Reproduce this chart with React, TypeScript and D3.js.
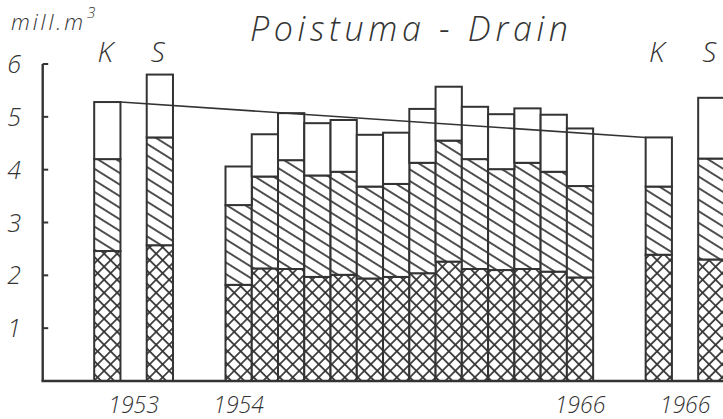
import React from "react";
import * as d3 from "d3";

// ---- data ----
const bars = ["K1953", "S1953", "p01", "p02", "p03", "p04", "p05", "p06", "p07", "p08", "p09", "p10", "p11", "p12", "p13", "p14", "K1966", "S1966"];
// crosshatched (lower) component, mill. m3
const lowerPart = [2.46, 2.57, 1.82, 2.13, 2.12, 1.97, 2.01, 1.94, 1.97, 2.04, 2.26, 2.12, 2.10, 2.12, 2.07, 1.96, 2.39, 2.30];
// single-hatched (middle) component
const middlePart = [1.74, 2.04, 1.51, 1.74, 2.06, 1.92, 1.95, 1.74, 1.76, 2.09, 2.29, 2.08, 1.91, 2.01, 1.89, 1.73, 1.29, 1.91];
// open (upper) component
const upperPart = [1.08, 1.19, 0.73, 0.80, 0.89, 0.99, 0.98, 0.98, 0.97, 1.02, 1.02, 0.99, 1.04, 1.03, 1.08, 1.09, 0.93, 1.15];

const yTicks = [1, 2, 3, 4, 5, 6];
const headLabels = [
  { bar: "K1953", text: "K" },
  { bar: "S1953", text: "S" },
  { bar: "K1966", text: "K" },
  { bar: "S1966", text: "S" },
];
const yearLabels = [
  { from: "K1953", to: "S1953", text: "1953" },
  { from: "p01", to: "p01", text: "1954" },
  { from: "p14", to: "p14", text: "1966" },
  { from: "K1966", to: "S1966", text: "1966" },
];
const trendFrom = "K1953";
const trendTo = "K1966";
const title = "Poistuma - Drain";
const unitLabel = "mill.m";

// ---- layout ----
const W = 723;
const H = 419;
const INK = "#333";
const FONT = "'Open Sans', 'DejaVu Sans', sans-serif";

export default function App() {
  // slot domain: gaps between groups are layout, not data
  const slots = [
    "K1953", "_g1", "S1953", "_g2", "_g3",
    ...bars.slice(2, 16),
    "_g4", "_g5", "K1966", "_g6", "S1966",
  ];
  const slotW = 26.26;
  const x = d3.scaleBand<string>().domain(slots).range([94.2, 94.2 + slots.length * slotW]).padding(0);
  const y = d3.scaleLinear().domain([0, 6]).range([381, 64]);

  const table = bars.map((b, i) => ({ bar: b, lower: lowerPart[i], middle: middlePart[i], upper: upperPart[i] }));
  const stack = d3.stack<any>().keys(["lower", "middle", "upper"]);
  const series = stack(table);
  const fills: Record<string, string> = { lower: "url(#cross)", middle: "url(#diag)", upper: "#fff" };

  const axisX = 42.7;
  const totals = new Map(table.map((d) => [d.bar, d.lower + d.middle + d.upper]));
  const bw = x.bandwidth();
  const center = (b: string) => (x(b) as number) + bw / 2;

  const trend = d3.line<[number, number]>()([
    [(x(trendFrom) as number) + bw, y(totals.get(trendFrom)!)],
    [x(trendTo) as number, y(totals.get(trendTo)!)],
  ]);

  const dS = 9.8;
  const cS = 9.2;

  return (
    <svg width={W} height={H} style={{ position: "absolute", left: 0, top: 0, background: "#fff" }} fontFamily={FONT}>
      <defs>
        <pattern id="diag" patternUnits="userSpaceOnUse" width={dS} height={dS} patternTransform="rotate(32)">
          <rect width={dS} height={dS} fill="#fff" />
          <line x1={0} y1={dS / 2} x2={dS} y2={dS / 2} stroke={INK} strokeWidth={1.7} />
        </pattern>
        <pattern id="cross" patternUnits="userSpaceOnUse" width={cS} height={cS} patternTransform="rotate(45)">
          <rect width={cS} height={cS} fill="#fff" />
          <line x1={0} y1={cS / 2} x2={cS} y2={cS / 2} stroke={INK} strokeWidth={1.7} />
          <line x1={cS / 2} y1={0} x2={cS / 2} y2={cS} stroke={INK} strokeWidth={1.7} />
        </pattern>
      </defs>

      {/* title & unit */}
      <text x={250} y={41} fontSize={34} fontStyle="italic" fontWeight={300} fill={INK} textLength={318} lengthAdjust="spacing">
        {title}
      </text>
      <text x={11} y={30} fontSize={22} fontStyle="italic" fontWeight={300} fill={INK}>
        <tspan textLength={72} lengthAdjust="spacing">{unitLabel}</tspan>
        <tspan x={87} dy={-12} fontSize={15}>3</tspan>
      </text>

      {/* bars */}
      {series.map((s) => (
        <g key={s.key}>
          {s.map((d: any) => (
            <rect
              key={d.data.bar}
              x={x(d.data.bar)}
              y={y(d[1])}
              width={bw}
              height={y(d[0]) - y(d[1])}
              fill={fills[s.key]}
              stroke={INK}
              strokeWidth={2}
            />
          ))}
        </g>
      ))}

      {/* trend line */}
      <path d={trend ?? ""} fill="none" stroke={INK} strokeWidth={1.6} />

      {/* y axis */}
      <line x1={axisX} y1={y(6)} x2={axisX} y2={y(0)} stroke={INK} strokeWidth={2.4} />
      {yTicks.map((t) => (
        <g key={t}>
          <line x1={axisX} y1={y(t)} x2={axisX + 5.5} y2={y(t)} stroke={INK} strokeWidth={2} />
          <text x={21} y={y(t)} dy="0.36em" textAnchor="end" fontSize={25} fontStyle="italic" fontWeight={300} fill={INK}>
            {t}
          </text>
        </g>
      ))}
      {/* baseline */}
      <line x1={axisX - 1.2} y1={y(0)} x2={W} y2={y(0)} stroke={INK} strokeWidth={2.6} />

      {/* K / S heads */}
      {headLabels.map((h, i) => (
        <text key={i} x={center(h.bar) - 2} y={62} textAnchor="middle" fontSize={28} fontStyle="italic" fontWeight={300} fill={INK}>
          {h.text}
        </text>
      ))}

      {/* year labels */}
      {yearLabels.map((l, i) => (
        <text key={i} x={(center(l.from) + center(l.to)) / 2} y={413} textAnchor="middle" fontSize={23} fontStyle="italic" fontWeight={300} fill={INK}>
          {l.text}
        </text>
      ))}
    </svg>
  );
}
